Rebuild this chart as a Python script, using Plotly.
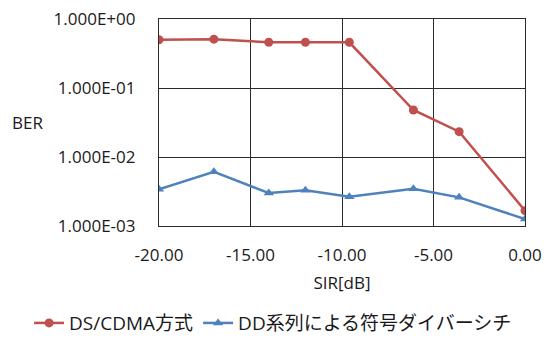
import plotly.graph_objects as go

# SIR values [dB] and measured bit error rates
sir_db = [-20, -17, -14, -12, -9.6, -6.1, -3.6, 0]
ber_ds_cdma = [0.50, 0.51, 0.46, 0.46, 0.46, 0.048, 0.0233, 0.00167]
ber_dd_code = [0.0034, 0.0061, 0.0030, 0.0033, 0.00266, 0.00347, 0.0026, 0.00126]

series_names = ["DS/CDMA方式", "DD系列による符号ダイバーシチ"]

x_tick_vals = [-20, -15, -10, -5, 0]
x_tick_text = ["-20.00", "-15.00", "-10.00", "-5.00", "0.00"]
y_tick_vals = [1e-3, 1e-2, 1e-1, 1]
y_tick_text = ["1.000E-03", "1.000E-02", "1.000E-01", "1.000E+00"]

FONT = "Open Sans, Noto Sans CJK JP, sans-serif"
RED = "#C0504D"
BLUE = "#4F81BD"

fig = go.Figure()
fig.add_trace(go.Scatter(
    x=sir_db, y=ber_ds_cdma, name=series_names[0], mode="lines+markers",
    line=dict(color=RED, width=2.5),
    marker=dict(symbol="circle", size=9, color=RED),
))
fig.add_trace(go.Scatter(
    x=sir_db, y=ber_dd_code, name=series_names[1], mode="lines+markers",
    line=dict(color=BLUE, width=2.5),
    marker=dict(symbol="triangle-up", size=9, color=BLUE),
))

fig.update_layout(
    width=547, height=340,
    margin=dict(l=159, r=22, t=19, b=114, autoexpand=False),
    paper_bgcolor="white", plot_bgcolor="white",
    font=dict(family=FONT, size=17, color="#1a1a1a"),
    showlegend=True,
    legend=dict(orientation="h", x=-0.355, xanchor="left",
                y=-0.469, yanchor="middle", font=dict(size=19),
                itemwidth=30, tracegroupgap=0, bgcolor="rgba(0,0,0,0)"),
    annotations=[dict(text="BER", xref="paper", yref="paper",
                      x=-0.358, y=0.5, showarrow=False,
                      font=dict(size=17), xanchor="center", yanchor="middle")],
)
fig.update_xaxes(
    range=[-20, 0], tickvals=x_tick_vals, ticktext=x_tick_text,
    showgrid=True, gridcolor="#2b2b2b", gridwidth=1.2,
    showline=True, linecolor="#2b2b2b", linewidth=1.2, mirror=True,
    zeroline=False, ticks="", ticklabelstandoff=13,
    title=dict(text="SIR[dB]", font=dict(size=17), standoff=12),
)
fig.update_yaxes(
    type="log", range=[-3, 0], tickvals=y_tick_vals, ticktext=y_tick_text,
    showgrid=True, gridcolor="#2b2b2b", gridwidth=1.2,
    showline=True, linecolor="#2b2b2b", linewidth=1.2, mirror=True,
    zeroline=False, ticks="", ticklabelstandoff=19,
)

fig.write_html("out.html")
